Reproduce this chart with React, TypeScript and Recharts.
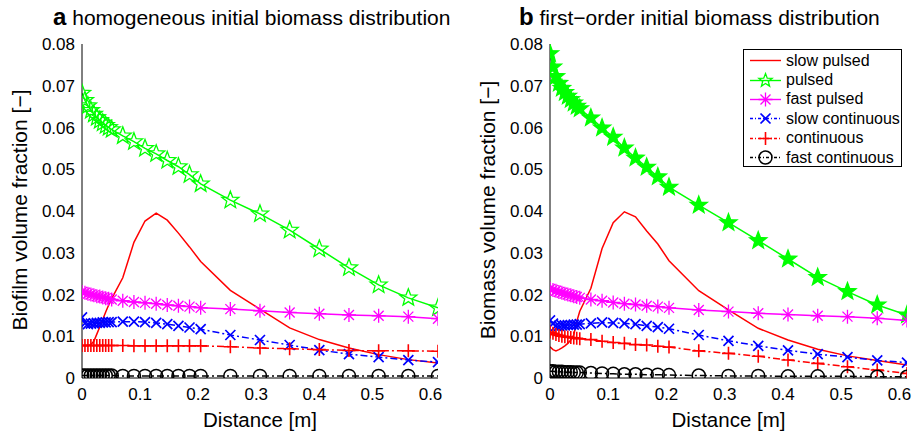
import React from "react";
import { LineChart, Line, XAxis, YAxis, Legend } from "recharts";

// grid points along the column [m]
const distance = [
  0, 0.0051, 0.0102, 0.0153, 0.0204, 0.0255, 0.0306, 0.0357, 0.0408, 0.0459, 0.0511,
  0.0702, 0.0894, 0.1085, 0.1277, 0.1468, 0.166, 0.1851, 0.2043,
  0.2554, 0.3064, 0.3575, 0.4086, 0.4596, 0.5107, 0.5618, 0.6129,
];

const xTicks = [0, 0.1, 0.2, 0.3, 0.4, 0.5, 0.6];
const yTicks = [0, 0.01, 0.02, 0.03, 0.04, 0.05, 0.06, 0.07, 0.08];

// panel a: homogeneous initial biomass
const aSlowPulsed = [0.0078, 0.0078, 0.0078, 0.008, 0.0088, 0.0105, 0.0122, 0.014, 0.0158, 0.0175, 0.019, 0.024, 0.0325, 0.0376, 0.0395, 0.0378, 0.0347, 0.0314, 0.0279, 0.021, 0.0165, 0.012, 0.0092, 0.0072, 0.0056, 0.0044, 0.0036];
const aPulsed = [0.0682, 0.0665, 0.0652, 0.0641, 0.0632, 0.0624, 0.0617, 0.0611, 0.0605, 0.06, 0.0595, 0.058, 0.0566, 0.055, 0.0537, 0.0521, 0.0506, 0.0487, 0.0465, 0.0426, 0.0393, 0.0354, 0.0309, 0.0264, 0.0223, 0.0192, 0.0168];
const aFastPulsed = [0.0206, 0.0204, 0.0202, 0.02, 0.0198, 0.0196, 0.0195, 0.0193, 0.0191, 0.019, 0.0188, 0.0185, 0.0182, 0.018, 0.0178, 0.0175, 0.0173, 0.0171, 0.0168, 0.0165, 0.0161, 0.0157, 0.0154, 0.0151, 0.0149, 0.0147, 0.0142];
const aSlowCont = [0.0145, 0.0131, 0.0129, 0.013, 0.0131, 0.0132, 0.0132, 0.0133, 0.0133, 0.0134, 0.0134, 0.0135, 0.0135, 0.0134, 0.0132, 0.0129, 0.0125, 0.0121, 0.0117, 0.0103, 0.0091, 0.0079, 0.0067, 0.0057, 0.005, 0.0043, 0.0038];
const aCont = [0.0078, 0.0078, 0.0078, 0.0078, 0.0078, 0.0078, 0.0078, 0.0078, 0.0078, 0.0078, 0.0078, 0.0078, 0.0077, 0.0077, 0.0077, 0.0077, 0.0077, 0.0077, 0.0077, 0.0075, 0.0072, 0.007, 0.0068, 0.0066, 0.0065, 0.0065, 0.0064];
const aFastCont = [0.0006, 0.0006, 0.0006, 0.0006, 0.0006, 0.0006, 0.0006, 0.0006, 0.0006, 0.0006, 0.0006, 0.0005, 0.0005, 0.0005, 0.0005, 0.0005, 0.0005, 0.0005, 0.0005, 0.0005, 0.0005, 0.0005, 0.0005, 0.0005, 0.0005, 0.0005, 0.0005];

// panel b: first-order initial biomass
const bSlowPulsed = [0.0075, 0.0068, 0.0065, 0.0068, 0.0072, 0.0077, 0.0083, 0.0091, 0.0103, 0.0135, 0.016, 0.0215, 0.031, 0.0372, 0.0398, 0.0386, 0.0352, 0.0321, 0.0281, 0.0209, 0.0163, 0.0119, 0.0091, 0.0069, 0.0053, 0.0042, 0.0031];
const bPulsed = [0.0777, 0.0745, 0.0722, 0.0706, 0.0694, 0.0684, 0.0675, 0.0667, 0.0659, 0.0651, 0.0645, 0.0623, 0.0599, 0.0577, 0.0551, 0.0527, 0.0505, 0.0482, 0.0457, 0.0414, 0.0372, 0.0329, 0.0285, 0.0241, 0.0207, 0.0175, 0.0151];
const bFastPulsed = [0.0213, 0.0211, 0.0209, 0.0206, 0.0204, 0.0202, 0.02, 0.0198, 0.0196, 0.0194, 0.0192, 0.0188, 0.0185, 0.0181, 0.0178, 0.0176, 0.0173, 0.0171, 0.0168, 0.0163, 0.0159, 0.0155, 0.0152, 0.0149, 0.0147, 0.0143, 0.0138];
const bSlowCont = [0.0138, 0.013, 0.0125, 0.0125, 0.0126, 0.0126, 0.0127, 0.0127, 0.0128, 0.0128, 0.0129, 0.0131, 0.0133, 0.0132, 0.0131, 0.0129, 0.0125, 0.0122, 0.0118, 0.0103, 0.0089, 0.0077, 0.0066, 0.0057, 0.005, 0.0042, 0.0037];
const bCont = [0.011, 0.0107, 0.0104, 0.0102, 0.01, 0.0099, 0.0098, 0.0097, 0.0096, 0.0095, 0.0094, 0.0092, 0.0088, 0.0085, 0.0083, 0.008, 0.0079, 0.0076, 0.0074, 0.0065, 0.0059, 0.0052, 0.0043, 0.0035, 0.0027, 0.0019, 0.0011];
const bFastCont = [0.0016, 0.0016, 0.0015, 0.0015, 0.0015, 0.0014, 0.0014, 0.0014, 0.0013, 0.0013, 0.0013, 0.0012, 0.0011, 0.001, 0.0009, 0.0009, 0.0008, 0.0008, 0.0007, 0.0006, 0.0005, 0.0005, 0.0004, 0.0004, 0.0004, 0.0003, 0.0003];

const FONT = '"Liberation Sans", Arial, Helvetica, sans-serif';
const DASHDOT = "7 3 2 3";

// marker shapes (matlab style)
function starPath(cx: number, cy: number, r: number) {
  let d = "";
  for (let k = 0; k < 10; k++) {
    const a = ((-90 + k * 36) * Math.PI) / 180;
    const rr = k % 2 ? r * 0.42 : r;
    d += (k ? "L" : "M") + (cx + rr * Math.cos(a)).toFixed(2) + "," + (cy + rr * Math.sin(a)).toFixed(2);
  }
  return d + "Z";
}

type Mk = "star" | "starFill" | "ast" | "x" | "plus" | "circle" | "none";

function marker(kind: Mk, cx: number, cy: number, color: string, key?: string) {
  const s = { stroke: color, strokeDasharray: "none", fill: "none" };
  switch (kind) {
    case "star":
    case "starFill":
      return <path key={key} d={starPath(cx, cy, 9)} {...s} fill={kind === "starFill" ? color : "none"} strokeWidth={1.3} />;
    case "ast": {
      const r = 7, q = 5;
      return (
        <path key={key} {...s} strokeWidth={1.3}
          d={`M${cx - r},${cy}H${cx + r}M${cx},${cy - r}V${cy + r}M${cx - q},${cy - q}L${cx + q},${cy + q}M${cx - q},${cy + q}L${cx + q},${cy - q}`} />
      );
    }
    case "x": {
      const r = 5;
      return <path key={key} {...s} strokeWidth={1.7} d={`M${cx - r},${cy - r}L${cx + r},${cy + r}M${cx - r},${cy + r}L${cx + r},${cy - r}`} />;
    }
    case "plus": {
      const r = 6.5;
      return <path key={key} {...s} strokeWidth={1.6} d={`M${cx - r},${cy}H${cx + r}M${cx},${cy - r}V${cy + r}`} />;
    }
    case "circle":
      return <circle key={key} cx={cx} cy={cy} r={6.5} {...s} strokeWidth={1.5} />;
    default:
      return <g key={key} />;
  }
}

const dotFn = (kind: Mk, color: string, name: string) => (p: any) =>
  marker(kind, p.cx, p.cy, color, `${name}-${p.index}`);

const series = [
  { key: "sp", name: "slow pulsed", color: "#ff0000", dash: undefined, mk: "none" as Mk },
  { key: "p", name: "pulsed", color: "#00ff00", dash: undefined, mk: "star" as Mk },
  { key: "fp", name: "fast pulsed", color: "#ff00ff", dash: undefined, mk: "ast" as Mk },
  { key: "sc", name: "slow continuous", color: "#0000ff", dash: DASHDOT, mk: "x" as Mk },
  { key: "c", name: "continuous", color: "#ff0000", dash: DASHDOT, mk: "plus" as Mk },
  { key: "fc", name: "fast continuous", color: "#000000", dash: DASHDOT, mk: "circle" as Mk },
];

const rowsA = distance.map((x, i) => ({ x, sp: aSlowPulsed[i], p: aPulsed[i], fp: aFastPulsed[i], sc: aSlowCont[i], c: aCont[i], fc: aFastCont[i] }));
const rowsB = distance.map((x, i) => ({ x, sp: bSlowPulsed[i], p: bPulsed[i], fp: bFastPulsed[i], sc: bSlowCont[i], c: bCont[i], fc: bFastCont[i] }));

const fmt = (v: number) => (v === 0 ? "0" : String(+v.toFixed(2)));

function LegendBox() {
  return (
    <div style={{ width: 159, height: 118, boxSizing: "border-box", border: "1px solid #000", background: "#fff", paddingTop: 1, fontFamily: FONT, fontSize: 16, color: "#000" }}>
      {series.map((s) => (
        <div key={s.key} style={{ display: "flex", alignItems: "center", height: 19.4 }}>
          <svg width={42} height={19} style={{ flex: "none" }}>
            <line x1={6} x2={37} y1={9.5} y2={9.5} stroke={s.color} strokeWidth={1.4} strokeDasharray={s.dash ? "3 2 1 2" : undefined} />
            {s.mk === "star" ? (
              <path d={starPath(21.5, 9.5, 7)} stroke={s.color} fill="none" strokeWidth={1.3} />
            ) : (
              marker(s.mk, 21.5, 9.5, s.color)
            )}
          </svg>
          <span style={{ whiteSpace: "nowrap" }}>{s.name}</span>
        </div>
      ))}
    </div>
  );
}

function Panel(props: { left: number; rows: any[]; tag: string; title: string; titleX: number; yLabel: string; ml: number; mr: number; filledStar?: boolean; legend?: boolean }) {
  const { left, rows, tag, title, titleX, yLabel, ml, mr, filledStar, legend } = props;
  const plotL = ml + 50;
  const plotR = 458 - mr;
  const axisCommon = { type: "number" as const, allowDataOverflow: true, stroke: "#000" };
  return (
    <div style={{ position: "absolute", left, top: 0, width: 458, height: 434 }}>
      <div style={{ position: "absolute", left: titleX, top: 3, fontFamily: FONT, fontSize: 21, whiteSpace: "nowrap", color: "#000" }}>
        <b style={{ fontSize: 24 }}>{tag}</b> {title}
      </div>
      <div style={{ position: "absolute", left: plotL - 62, top: 210, transform: "translate(-50%, -50%) rotate(-90deg)", fontFamily: FONT, fontSize: 21, whiteSpace: "nowrap", color: "#000" }}>
        {yLabel}
      </div>
      <div style={{ position: "absolute", left: (plotL + plotR) / 2, top: 420, transform: "translate(-50%, -50%)", fontFamily: FONT, fontSize: 20.5, whiteSpace: "nowrap", color: "#000" }}>
        Distance [m]
      </div>
      <LineChart width={458} height={434} data={rows} margin={{ top: 44, right: mr, bottom: 26, left: ml }} style={{ fontFamily: FONT }}>
        <XAxis xAxisId="x" dataKey="x" {...axisCommon} domain={[0, 0.6129]} ticks={xTicks} tickFormatter={fmt} height={30} tickLine={false} tickMargin={4} tick={{ fill: "#000", fontSize: 17 }} />
        <XAxis xAxisId="xt" orientation="top" mirror {...axisCommon} domain={[0, 0.6129]} ticks={xTicks} tick={false} tickSize={5} height={0} />
        <XAxis xAxisId="xb" orientation="bottom" mirror {...axisCommon} domain={[0, 0.6129]} ticks={xTicks} tick={false} tickSize={5} height={0} />
        <YAxis yAxisId="y" {...axisCommon} domain={[0, 0.08]} ticks={yTicks} tickFormatter={fmt} width={50} tickLine={false} tickMargin={1} tick={{ fill: "#000", fontSize: 17 }} />
        <YAxis yAxisId="yl" orientation="left" mirror {...axisCommon} domain={[0, 0.08]} ticks={yTicks} tick={false} tickSize={5} width={0} />
        <YAxis yAxisId="yr" orientation="right" mirror {...axisCommon} domain={[0, 0.08]} ticks={yTicks} tick={false} tickSize={5} width={0} />
        {series.map((s) => (
          <Line
            key={s.key}
            xAxisId="x"
            yAxisId="y"
            type="linear"
            dataKey={s.key}
            name={s.name}
            stroke={s.color}
            strokeWidth={1.5}
            strokeDasharray={s.dash}
            dot={s.mk === "none" ? false : dotFn(s.mk === "star" && filledStar ? "starFill" : s.mk, s.color, s.key)}
            activeDot={false}
            isAnimationActive={false}
          />
        ))}
        {legend && (
          <Legend layout="horizontal" verticalAlign="middle" align="center" content={() => <LegendBox />} wrapperStyle={{ left: 285, top: 49, width: 159, height: 118 }} />
        )}
      </LineChart>
    </div>
  );
}

export default function App() {
  return (
    <div style={{ position: "absolute", left: 0, top: 0, width: 916, height: 434, background: "#fff" }}>
      <Panel left={0} rows={rowsA} tag="a" titleX={53} title="homogeneous initial biomass distribution" yLabel="Biofilm volume fraction [−]" ml={32} mr={20} />
      <Panel left={458} rows={rowsB} tag="b" titleX={61} title="first−order initial biomass distribution" yLabel="Biomass volume fraction [−]" ml={42} mr={9} filledStar legend />
    </div>
  );
}
